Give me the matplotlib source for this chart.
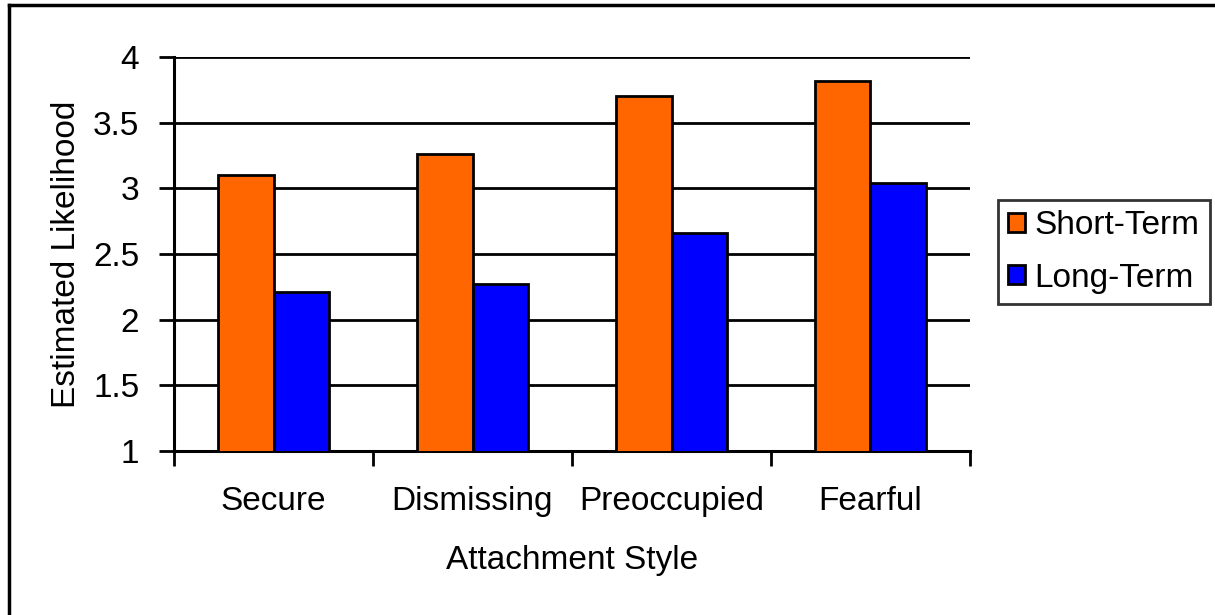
import numpy as np
import matplotlib
matplotlib.use("Agg")
import matplotlib.pyplot as plt
from matplotlib.lines import Line2D

plt.rcParams['font.family'] = ['Liberation Sans', 'DejaVu Sans']

styles = ["Secure", "Dismissing", "Preoccupied", "Fearful"]
short_term = [3.10, 3.26, 3.70, 3.82]
long_term = [2.21, 2.27, 2.66, 3.04]
y_ticks = [1, 1.5, 2, 2.5, 3, 3.5, 4]
y_labels = ["1", "1.5", "2", "2.5", "3", "3.5", "4"]

W, H = 1215, 615
fs = 24
fig = plt.figure(figsize=(W / 100, H / 100), dpi=100)
ax = fig.add_axes([174 / W, 1 - 451 / H, 796 / W, 394 / H])

x = np.arange(len(styles))
bw = 0.28
ax.bar(x - bw / 2, short_term, bw, color="#FF6600", edgecolor="black",
       linewidth=2, label="Short-Term", zorder=3)
ax.bar(x + bw / 2, long_term, bw, color="#0000FF", edgecolor="black",
       linewidth=2, label="Long-Term", zorder=3)

ax.set_ylim(1, 4)
ax.set_xlim(-0.5, 3.5)
ax.set_yticks(y_ticks)
ax.set_yticklabels(y_labels)
ax.yaxis.grid(True, color="black", linewidth=2, zorder=0)
ax.set_axisbelow(True)

# ticks at category boundaries, labels at centres
ax.set_xticks(np.arange(-0.5, 4, 1))
ax.set_xticklabels([])
ax.set_xticks(x, minor=True)
ax.set_xticklabels(styles, minor=True)
ax.tick_params(axis="x", which="major", length=11, width=2, direction="out")
ax.tick_params(axis="x", which="minor", length=0, pad=25, labelsize=fs)
ax.tick_params(axis="y", length=11, width=2, direction="out", pad=14, labelsize=fs)

for s in ["top", "right"]:
    ax.spines[s].set_visible(False)
for s in ["left", "bottom"]:
    ax.spines[s].set_linewidth(2.2)
    ax.spines[s].set_color("black")

ax.set_xlabel("Attachment Style", fontsize=fs, labelpad=20)
ax.set_ylabel("Estimated Likelihood", fontsize=fs, labelpad=8)

leg = fig.legend(loc="center left", bbox_to_anchor=(998 / W, 1 - 252 / H),
                 fontsize=fs, frameon=True, fancybox=False, handlelength=0.5,
                 handleheight=0.5, handletextpad=0.3, borderpad=0.3,
                 labelspacing=0.65, borderaxespad=0)
leg.get_frame().set_edgecolor("black")
leg.get_frame().set_linewidth(2)

# outer chart border (left and top visible)
fig.add_artist(Line2D([9 / W, 9 / W], [0, 1 - 5 / H], color="black", linewidth=2.5))
fig.add_artist(Line2D([9 / W, 1], [1 - 5 / H, 1 - 5 / H], color="black", linewidth=2.5))

fig.savefig("out.png", dpi=100)
